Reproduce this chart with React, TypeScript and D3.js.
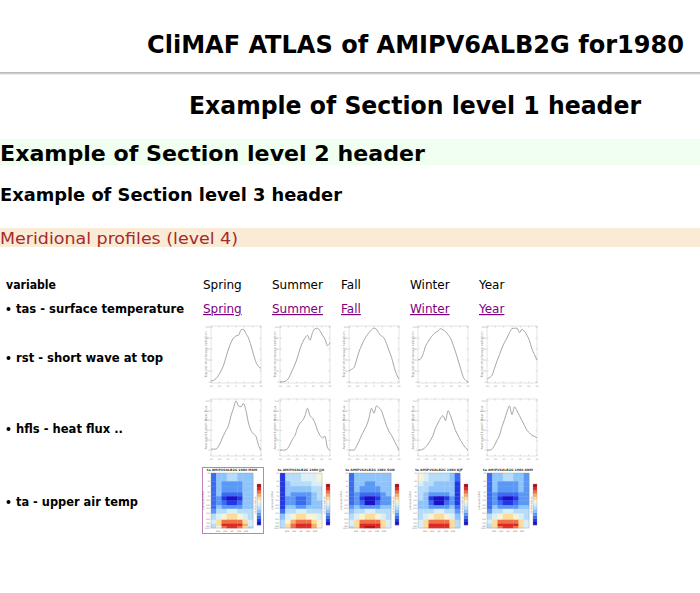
import React from 'react';
import * as d3 from 'd3';

const FONT = "'DejaVu Sans', Verdana, sans-serif";
const HEAD_FONT = "'DejaVu Sans Condensed', 'DejaVu Sans', Tahoma, sans-serif";

const seasons = ['Spring', 'Summer', 'Fall', 'Winter', 'Year'];
const seasonCodes = ['MAM', 'JJA', 'SON', 'DJF', 'ANM'];
const varLabels = ['rst - short wave at top', 'hfls - heat flux ..', 'ta - upper air temp'];

// latitude grid of the meridional profiles
const lats = [-90, -81, -72, -63, -54, -45, -36, -27, -18, -9, 0, 9, 18, 27, 36, 45, 54, 63, 72, 81, 90];

// rst : top net shortwave radiation (relative units)
const rstSpring = [2, 3, 6, 12, 20, 30, 45, 60, 72, 80, 84, 85, 95, 96, 88, 80, 66, 50, 36, 28, 25];
const rstSummer = [0, 0, 1, 4, 12, 22, 32, 45, 60, 72, 80, 85, 76, 90, 97, 98, 93, 85, 78, 66, 72];
const rstFall = [20, 23, 26, 40, 55, 66, 76, 84, 90, 95, 98, 96, 88, 84, 80, 70, 57, 45, 28, 14, 5];
const rstWinter = [40, 42, 50, 65, 73, 80, 86, 90, 93, 97, 95, 92, 86, 80, 68, 55, 40, 25, 10, 3, 0];
const rstYear = [5, 8, 12, 25, 38, 50, 62, 72, 80, 90, 97, 98, 98, 90, 96, 92, 85, 75, 60, 50, 40];

// hfls : averaged latent heat flux (relative units)
const hflsSpring = [2, 2, 2, 8, 18, 30, 40, 50, 70, 85, 100, 90, 88, 95, 80, 55, 40, 33, 28, 10, 0];
const hflsSummer = [0, 0, 0, 3, 12, 22, 30, 45, 55, 60, 70, 85, 70, 65, 55, 40, 30, 25, 28, 5, 0];
const hflsFall = [0, 0, 0, 8, 18, 30, 40, 50, 65, 85, 75, 90, 86, 80, 65, 50, 38, 30, 20, 10, 0];
const hflsWinter = [0, 0, 2, 6, 12, 20, 30, 45, 55, 65, 70, 60, 80, 70, 55, 40, 30, 20, 12, 5, 0];
const hflsYear = [0, 0, 2, 10, 20, 30, 48, 62, 78, 90, 72, 88, 80, 70, 60, 50, 40, 35, 30, 28, 25];

// ta : zonal mean air temperature, colour class per (pressure band, latitude band)
const latEdges = [-90, -67.5, -45, -22.5, 0, 22.5, 45, 67.5, 90];
const pressureEdges = [10, 20, 30, 50, 70, 100, 150, 200, 300, 500, 700, 850, 1000];
const pressureTicks = [10, 20, 30, 50, 70, 100, 150, 200, 300, 500, 700, 850, 1000];
const latTicks = ['60S', '30S', 'EQ', '30N', '60N'];
const palette = [
  '#1a12c8', '#2238e6', '#3b6cf0', '#5a98f6', '#8ec4fa', '#b6dcf8', '#daeef8',
  '#f7f4d6', '#fbdc9a', '#f7ae6c', '#ef7048', '#dc2a22', '#b40c12',
];

const taSpring = [
  [2, 4, 4, 5, 5, 4, 4, 4],
  [2, 4, 3, 3, 3, 3, 4, 4],
  [2, 4, 3, 3, 3, 3, 4, 4],
  [2, 4, 2, 2, 2, 2, 4, 4],
  [2, 3, 1, 0, 0, 1, 4, 4],
  [2, 3, 2, 1, 1, 2, 4, 4],
  [2, 4, 3, 3, 3, 3, 4, 4],
  [3, 5, 5, 6, 6, 5, 5, 5],
  [5, 6, 7, 8, 8, 7, 6, 5],
  [6, 8, 10, 10, 10, 10, 8, 6],
  [5, 8, 11, 11, 11, 11, 9, 6],
  [5, 7, 10, 11, 11, 10, 8, 5],
];
const taSummer = [
  [1, 5, 5, 5, 6, 6, 6, 7],
  [1, 4, 5, 5, 5, 5, 6, 6],
  [1, 4, 4, 4, 4, 4, 5, 5],
  [1, 4, 3, 3, 3, 3, 4, 5],
  [1, 3, 3, 2, 2, 3, 4, 5],
  [1, 3, 3, 2, 2, 3, 4, 4],
  [1, 4, 4, 3, 3, 4, 4, 4],
  [2, 5, 5, 6, 6, 5, 5, 5],
  [4, 6, 7, 8, 8, 7, 7, 6],
  [5, 7, 9, 10, 10, 10, 8, 7],
  [5, 8, 10, 11, 11, 11, 9, 7],
  [5, 8, 10, 11, 11, 11, 9, 7],
];
const taFall = [
  [2, 4, 4, 4, 4, 4, 4, 4],
  [2, 4, 4, 3, 3, 4, 4, 4],
  [2, 4, 3, 3, 3, 3, 4, 4],
  [2, 3, 2, 2, 2, 2, 3, 4],
  [2, 3, 1, 0, 0, 1, 3, 3],
  [2, 3, 2, 0, 0, 2, 3, 3],
  [3, 4, 3, 3, 3, 3, 4, 4],
  [4, 5, 5, 6, 6, 5, 5, 5],
  [5, 6, 7, 8, 8, 7, 6, 5],
  [6, 8, 10, 10, 10, 10, 8, 6],
  [6, 8, 11, 11, 11, 11, 8, 6],
  [5, 8, 11, 12, 12, 11, 8, 6],
];
const taWinter = [
  [7, 6, 5, 5, 5, 5, 4, 2],
  [6, 5, 5, 4, 4, 4, 4, 1],
  [5, 5, 4, 4, 4, 4, 4, 1],
  [5, 4, 3, 3, 3, 3, 4, 1],
  [5, 4, 1, 0, 0, 1, 3, 1],
  [4, 4, 2, 0, 0, 2, 3, 1],
  [4, 4, 3, 3, 3, 3, 4, 2],
  [5, 5, 5, 6, 6, 5, 5, 3],
  [5, 6, 7, 8, 8, 7, 6, 4],
  [6, 8, 10, 10, 10, 10, 8, 5],
  [6, 8, 11, 11, 11, 11, 8, 5],
  [6, 8, 11, 11, 11, 11, 8, 5],
];
const taYear = [
  [2, 4, 4, 5, 5, 4, 4, 3],
  [2, 4, 3, 3, 3, 3, 4, 3],
  [2, 4, 3, 3, 3, 3, 4, 3],
  [2, 3, 2, 2, 2, 2, 3, 3],
  [2, 3, 1, 0, 0, 1, 3, 3],
  [2, 3, 2, 1, 1, 2, 3, 3],
  [2, 4, 3, 3, 3, 3, 4, 4],
  [3, 5, 5, 6, 6, 5, 5, 5],
  [5, 6, 7, 8, 8, 7, 6, 5],
  [6, 8, 10, 10, 10, 10, 8, 6],
  [5, 8, 11, 11, 11, 11, 8, 6],
  [5, 8, 10, 11, 11, 10, 8, 6],
];

const rstSeries = [rstSpring, rstSummer, rstFall, rstWinter, rstYear];
const hflsSeries = [hflsSpring, hflsSummer, hflsFall, hflsWinter, hflsYear];
const taSeries = [taSpring, taSummer, taFall, taWinter, taYear];

const colX = d3.scalePoint<string>().domain(seasons).range([203, 479]);

function Profile({ x0, y0, values, yDomain, label }: { x0: number; y0: number; values: number[]; yDomain: [number, number]; label: string }) {
  const w = 50;
  const h = 57;
  const x = d3.scaleLinear().domain([-90, 90]).range([0, w]);
  const y = d3.scaleLinear().domain(yDomain).range([h, 0]);
  const line = d3
    .line<number>()
    .x((_, i) => x(lats[i]))
    .y((d) => y(d))
    .curve(d3.curveMonotoneX);
  const xt = d3.range(-90, 91, 30);
  const yt = y.ticks(6);
  return (
    <g transform={`translate(${x0 + 8},${y0})`}>
      <rect width={w} height={h} fill="none" stroke="#cfcfcf" strokeWidth={0.6} />
      {xt.map((t) => (
        <g key={'x' + t} stroke="#b5b5b5" strokeWidth={0.5}>
          <line x1={x(t)} x2={x(t)} y1={h} y2={h - 1.5} />
          <line x1={x(t)} x2={x(t)} y1={0} y2={1.5} />
        </g>
      ))}
      {xt.map((t) => (
        <text key={'xl' + t} x={x(t)} y={h + 3.5} fontSize={2.4} fill="#aaa" textAnchor="middle">
          {t}
        </text>
      ))}
      {yt.map((t) => (
        <g key={'y' + t} stroke="#b5b5b5" strokeWidth={0.5}>
          <line x1={0} x2={1.5} y1={y(t)} y2={y(t)} />
          <line x1={w} x2={w - 1.5} y1={y(t)} y2={y(t)} />
        </g>
      ))}
      {yt.map((t) => (
        <text key={'yl' + t} x={-1} y={y(t) + 0.8} fontSize={2.4} fill="#aaa" textAnchor="end">
          {t}
        </text>
      ))}
      <text transform={`translate(-4.5,${h / 2}) rotate(-90)`} fontSize={3.3} fill="#8a8a8a" textAnchor="middle">
        {label}
      </text>
      <path d={line(values) ?? ''} fill="none" stroke="#8f8f8f" strokeWidth={0.8} />
    </g>
  );
}

function TaMap({ x0, y0, grid, code }: { x0: number; y0: number; grid: number[][]; code: string }) {
  const w = 42;
  const h = 55;
  const x = d3.scaleLinear().domain([-90, 90]).range([0, w]);
  const y = d3.scaleLog().domain([10, 1000]).range([0, h]);
  const cb = d3.scaleBand<number>().domain(d3.range(palette.length).reverse()).range([11, 52]);
  const xl = d3.scalePoint<string>().domain(latTicks).range([x(-60), x(60)]);
  return (
    <g transform={`translate(${x0 + 8},${y0})`}>
      <text x={w / 2} y={-2} fontSize={3.2} fontWeight="bold" fill="#333" textAnchor="middle">
        {`ta AMIPV6ALB2G 1980 ${code}`}
      </text>
      {grid.map((row, r) =>
        row.map((v, c) => (
          <rect
            key={r + '-' + c}
            x={x(latEdges[c])}
            y={y(pressureEdges[r])}
            width={x(latEdges[c + 1]) - x(latEdges[c]) + 0.3}
            height={y(pressureEdges[r + 1]) - y(pressureEdges[r]) + 0.3}
            fill={palette[v]}
          />
        ))
      )}
      <rect width={w} height={h} fill="none" stroke="#888" strokeWidth={0.3} />
      {pressureTicks.map((p) => (
        <text key={p} x={-1} y={y(p) + 0.7} fontSize={2} fill="#777" textAnchor="end">
          {p}
        </text>
      ))}
      <text transform={`translate(-7.5,${h / 2}) rotate(-90)`} fontSize={2.6} fill="#777" textAnchor="middle">
        pressure (hPa)
      </text>
      {latTicks.map((t) => (
        <text key={t} x={xl(t)} y={h + 4} fontSize={2.2} fill="#777" textAnchor="middle">
          {t}
        </text>
      ))}
      {palette.map((col, i) => (
        <rect key={col} x={w + 4} y={cb(i)} width={4} height={cb.bandwidth() + 0.2} fill={col} />
      ))}
      <rect x={w + 4} y={11} width={4} height={41} fill="none" stroke="#888" strokeWidth={0.3} />
      <text transform={`translate(${w + 2.5},${32}) rotate(-90)`} fontSize={2.2} fill="#888" textAnchor="middle">
        air temperature
      </text>
    </g>
  );
}

export default function App() {
  const rowY = [326, 399, 473];
  return (
    <div style={{ position: 'absolute', left: 0, top: 0, width: 700, height: 593, background: '#fff' }}>
      <svg width={700} height={593} style={{ display: 'block' }} fontFamily={FONT}>
        <rect width={700} height={593} fill="#fff" />
        <rect x={0} y={139} width={700} height={26} fill="#f0fff0" />
        <rect x={0} y={228} width={700} height={19} fill="#faebd7" />
        <line x1={0} x2={700} y1={73} y2={73} stroke="#7a7a7a" strokeWidth={1} />
        <line x1={0} x2={700} y1={74} y2={74} stroke="#dcdcdc" strokeWidth={1} />
        <g fontFamily={HEAD_FONT} fontWeight="bold">
          <text x={147} y={53} fontSize={25} textLength={537} lengthAdjust="spacingAndGlyphs">
            CliMAF ATLAS of AMIPV6ALB2G for1980
          </text>
          <text x={189} y={114} fontSize={24} textLength={452} lengthAdjust="spacingAndGlyphs">
            Example of Section level 1 header
          </text>
          <text x={0} y={161} fontSize={22} textLength={425} lengthAdjust="spacingAndGlyphs">
            Example of Section level 2 header
          </text>
          <text x={0} y={201} fontSize={18} textLength={342} lengthAdjust="spacingAndGlyphs">
            Example of Section level 3 header
          </text>
        </g>
        <text x={0} y={244} fontSize={16.5} fontFamily={HEAD_FONT} fill="#a52a2a" textLength={238} lengthAdjust="spacingAndGlyphs">
          Meridional profiles (level 4)
        </text>

        <text x={6} y={289} fontSize={12} fontWeight="bold" textLength={50} lengthAdjust="spacingAndGlyphs">
          variable
        </text>
        {seasons.map((s) => (
          <text key={s} x={colX(s)} y={289} fontSize={12}>
            {s}
          </text>
        ))}

        <circle cx={8.5} cy={309} r={2} fill="#000" />
        <text x={16} y={313} fontSize={12} fontWeight="bold" textLength={168} lengthAdjust="spacingAndGlyphs">
          tas - surface temperature
        </text>
        {seasons.map((s) => (
          <text key={s} x={colX(s)} y={313} fontSize={12} fill="#800080" style={{ textDecoration: 'underline' }}>
            {s}
          </text>
        ))}

        {varLabels.map((v, i) => (
          <g key={v}>
            <circle cx={8.5} cy={[358, 429, 502][i]} r={2} fill="#000" />
            <text x={16} y={[362, 433, 506][i]} fontSize={12} fontWeight="bold" textLength={[147, 107, 122][i]} lengthAdjust="spacingAndGlyphs">
              {v}
            </text>
          </g>
        ))}

        {seasons.map((s, i) => (
          <Profile key={'rst' + s} x0={colX(s)!} y0={rowY[0]} values={rstSeries[i]} yDomain={[-2, 102]} label="Top net shortwave radiation" />
        ))}
        {seasons.map((s, i) => (
          <Profile key={'hfls' + s} x0={colX(s)!} y0={rowY[1]} values={hflsSeries[i]} yDomain={[-12, 104]} label="Averaged Latent Heat Flux" />
        ))}
        {seasons.map((s, i) => (
          <TaMap key={'ta' + s} x0={colX(s)!} y0={rowY[2]} grid={taSeries[i]} code={seasonCodes[i]} />
        ))}
        <rect x={202.5} y={467.5} width={61} height={66} fill="none" stroke="#800080" strokeWidth={1} strokeDasharray="1,1" />
      </svg>
    </div>
  );
}
